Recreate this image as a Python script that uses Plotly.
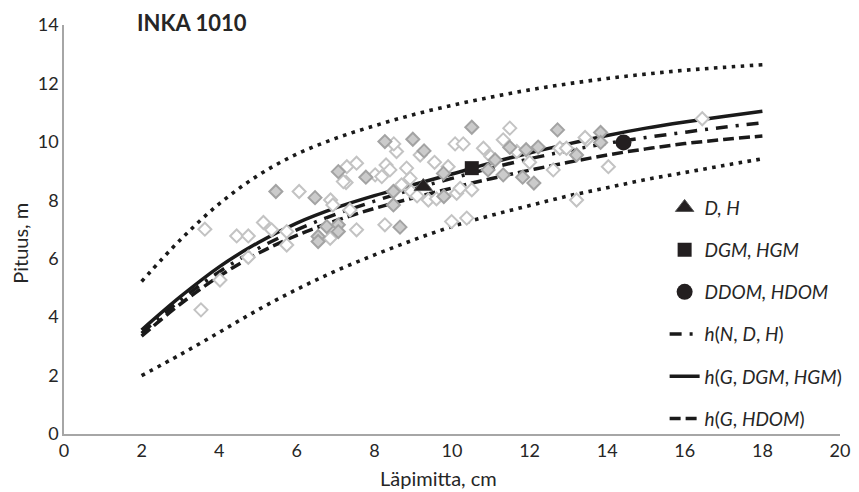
import plotly.graph_objects as go

# Fitted curves (x = diameter, cm)
curve_x = [2, 3, 4, 5, 6, 7, 8, 9, 10, 11, 12, 13, 14, 15, 16, 17, 18]
upper_dotted = [5.22, 6.65, 7.88, 8.85, 9.58, 10.12, 10.55, 10.93, 11.25, 11.53, 11.78, 11.99, 12.17, 12.32, 12.45, 12.55, 12.64]
lower_dotted = [2.0, 2.72, 3.48, 4.25, 4.95, 5.58, 6.13, 6.64, 7.1, 7.48, 7.82, 8.15, 8.43, 8.71, 8.95, 9.19, 9.42]
h_N_D_H = [3.45, 4.58, 5.55, 6.35, 6.99, 7.52, 7.97, 8.38, 8.75, 9.1, 9.42, 9.7, 9.95, 10.15, 10.33, 10.5, 10.65]
h_G_DGM_HGM = [3.56, 4.7, 5.72, 6.55, 7.22, 7.74, 8.16, 8.53, 8.9, 9.28, 9.62, 9.93, 10.22, 10.47, 10.68, 10.87, 11.05]
h_G_HDOM = [3.35, 4.45, 5.4, 6.18, 6.8, 7.3, 7.72, 8.08, 8.42, 8.74, 9.03, 9.3, 9.55, 9.76, 9.94, 10.08, 10.2]

# Measured trees (open diamonds)
open_x = [3.63, 4.45, 4.75, 5.14, 5.35, 5.74, 5.74, 4.75, 4.02, 3.53,
          6.06, 6.87, 6.93, 7.29, 7.54, 7.27, 6.86, 7.54, 7.37, 7.2,
          8.02, 8.57, 8.5, 9.18, 10.08, 10.29, 8.3, 8.4, 8.19, 8.7,
          8.92, 8.83, 9.39, 10.12, 10.21, 10.51, 9.99, 10.38, 8.27, 11.49,
          10.81, 14.03, 13.21, 12.61, 13.47, 12.78, 11.67, 11.32, 13.43, 12.95,
          16.45, 9.55, 9.9, 8.95, 9.1, 9.6, 11.0, 12.0]
open_y = [7.01, 6.78, 6.78, 7.24, 6.99, 6.93, 6.47, 6.05, 5.27, 4.25,
          8.30, 8.01, 7.84, 9.15, 9.27, 8.61, 6.70, 6.99, 7.67, 8.64,
          8.87, 9.67, 9.93, 9.55, 9.93, 9.93, 9.21, 9.04, 8.81, 8.53,
          8.75, 9.1, 8.01, 8.24, 8.41, 8.36, 7.27, 7.39, 7.16, 10.47,
          9.78, 9.15, 8.01, 9.04, 10.07, 9.78, 9.67, 10.07, 10.15, 9.78,
          10.79, 9.3, 9.15, 8.3, 8.15, 8.05, 9.5, 9.3]

# Sample trees (filled diamonds)
filled_x = [5.46, 6.47, 7.07, 6.77, 6.55, 6.55, 7.07, 7.07, 7.78, 8.27,
            8.99, 9.28, 9.78, 10.51, 8.49, 8.49, 9.79, 8.66, 11.11, 10.93,
            11.49, 11.32, 11.82, 12.11, 11.91, 12.22, 12.72, 13.21, 13.83, 13.83]
filled_y = [8.30, 8.09, 8.98, 7.10, 6.76, 6.59, 7.16, 6.93, 8.79, 10.01,
            10.09, 9.69, 8.92, 10.5, 8.3, 7.84, 8.13, 7.08, 9.38, 9.04,
            9.81, 8.87, 8.79, 8.59, 9.73, 9.82, 10.41, 9.55, 10.32, 9.98]

# Stand characteristics
mean_x, mean_y = [9.26], [8.47]
dgm_x, dgm_y = [10.51], [9.1]
ddom_x, ddom_y = [14.42], [9.98]

FONT = "Lato, 'Open Sans', sans-serif"
TXT = "#262626"
INK = "#1a1a1a"

fig = go.Figure()

for ys in (upper_dotted, lower_dotted):
    fig.add_trace(go.Scatter(x=curve_x, y=ys, mode="lines",
                             line=dict(color=INK, width=3.6, dash="3.6px,5.4px", shape="spline"),
                             showlegend=False, hoverinfo="skip"))

fig.add_trace(go.Scatter(x=curve_x, y=h_N_D_H, mode="lines", name="<i>h</i>(<i>N</i>, <i>D</i>, <i>H</i>)",
                         line=dict(color=INK, width=3.5, dash="12px,8px,3px,8px", shape="spline"),
                         legendrank=4, legendgroup="d"))
fig.add_trace(go.Scatter(x=curve_x, y=h_G_DGM_HGM, mode="lines", name="<i>h</i>(<i>G</i>, <i>DGM</i>, <i>HGM</i>)",
                         line=dict(color=INK, width=3.5, shape="spline"), legendrank=5, legendgroup="e"))
fig.add_trace(go.Scatter(x=curve_x, y=h_G_HDOM, mode="lines", name="<i>h</i>(<i>G</i>, <i>HDOM</i>)",
                         line=dict(color=INK, width=3.5, dash="11px,5px", shape="spline"), legendrank=6, legendgroup="f"))

fig.add_trace(go.Scatter(x=open_x, y=open_y, mode="markers", showlegend=False,
                         marker=dict(symbol="diamond", size=10, color="white", line=dict(color="#c3c3c3", width=2))))
fig.add_trace(go.Scatter(x=filled_x, y=filled_y, mode="markers", showlegend=False,
                         marker=dict(symbol="diamond", size=10, color="#cbcbcb", line=dict(color="#a3a3a3", width=2))))

fig.add_trace(go.Scatter(x=mean_x, y=mean_y, mode="markers", name="<i>D, H</i>", legendrank=1, legendgroup="a",
                         marker=dict(symbol="triangle-up", size=16, color="#231f20", line=dict(color="#555", width=1))))
fig.add_trace(go.Scatter(x=dgm_x, y=dgm_y, mode="markers", name="<i>DGM, HGM</i>", legendrank=2, legendgroup="b",
                         marker=dict(symbol="square", size=14, color="#231f20")))
fig.add_trace(go.Scatter(x=ddom_x, y=ddom_y, mode="markers", name="<i>DDOM, HDOM</i>", legendrank=3, legendgroup="c",
                         marker=dict(symbol="circle", size=16, color="#231f20")))

fig.update_layout(
    width=859, height=492,
    margin=dict(l=56, r=27, t=17, b=66),
    paper_bgcolor="white", plot_bgcolor="white",
    font=dict(family=FONT, color=TXT, size=17),
    showlegend=True,
    legend=dict(x=0.774, y=0.60, xanchor="left", yanchor="top", bgcolor="rgba(0,0,0,0)",
                font=dict(size=19, color=TXT, family=FONT), tracegroupgap=14.5, traceorder="grouped"),
    xaxis=dict(range=[0, 20], tickvals=[0, 2, 4, 6, 8, 10, 12, 14, 16, 18, 20], showgrid=False, zeroline=False,
               showline=True, linecolor="#a6a6a6", linewidth=1.5, ticks="", automargin=False,
               tickfont=dict(size=18, color=TXT)),
    yaxis=dict(range=[0, 14], tickvals=[0, 2, 4, 6, 8, 10, 12, 14], showgrid=False, zeroline=False,
               showline=True, linecolor="#a6a6a6", linewidth=1.5, ticks="", automargin=False,
               tickfont=dict(size=18, color=TXT)),
    annotations=[
        dict(text="<b>INKA 1010</b>", xref="paper", yref="paper", x=0.092, y=1.005, xanchor="left",
             yanchor="middle", showarrow=False, font=dict(size=22, color=TXT, family=FONT)),
        dict(text="Läpimitta, cm", xref="paper", yref="paper", x=0.482, y=-0.108, xanchor="center",
             yanchor="middle", showarrow=False, font=dict(size=20, color=TXT, family=FONT)),
        dict(text="Pituus, m", xref="paper", yref="paper", x=-0.057, y=0.467, xanchor="center",
             yanchor="middle", textangle=-90, showarrow=False, font=dict(size=20, color=TXT, family=FONT)),
    ],
)

fig.write_html("out.html")
